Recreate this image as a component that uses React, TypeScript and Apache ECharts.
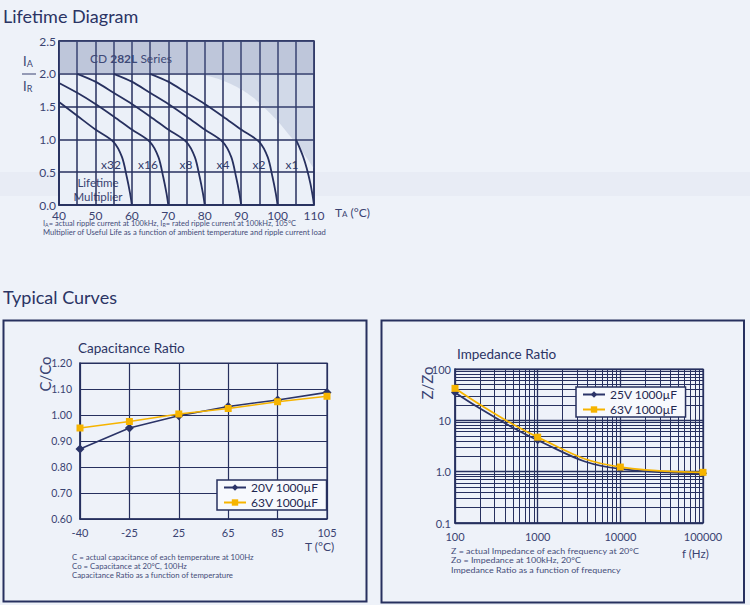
import React, { useEffect, useRef } from 'react';
import * as echarts from 'echarts';

// ---------- Lifetime diagram data ----------
const lifeXTicks = [40, 50, 60, 70, 80, 90, 100, 110];
const x1T = [105, 106, 107, 108, 109, 109.6, 110];
const x1V = [1.0, 0.88, 0.74, 0.56, 0.33, 0.15, 0];
const x2T = [65, 70, 75, 80, 85, 90, 95, 97.3, 98.6, 99.5, 100];
const x2V = [2.0, 1.88, 1.71, 1.54, 1.35, 1.15, 0.96, 0.73, 0.43, 0.18, 0];
const x4T = [55, 60, 65, 70, 75, 80, 85, 87.3, 88.6, 89.5, 90];
const x4V = [2.0, 1.88, 1.71, 1.54, 1.35, 1.15, 0.96, 0.73, 0.43, 0.18, 0];
const x8T = [45, 50, 55, 60, 65, 70, 75, 77.3, 78.6, 79.5, 80];
const x8V = [2.0, 1.88, 1.71, 1.54, 1.35, 1.15, 0.96, 0.73, 0.43, 0.18, 0];
const x16T = [40, 45, 50, 55, 60, 65, 67.3, 68.6, 69.5, 70];
const x16V = [1.86, 1.71, 1.54, 1.35, 1.15, 0.96, 0.73, 0.43, 0.18, 0];
const x32T = [40, 45, 50, 55, 57.3, 58.6, 59.5, 60];
const x32V = [1.57, 1.36, 1.15, 0.96, 0.73, 0.43, 0.18, 0];
const shadeT = [76, 82, 88, 93, 96, 100, 103, 105, 108, 110];
const shadeV = [2.0, 1.95, 1.82, 1.65, 1.5, 1.28, 1.08, 0.95, 0.72, 0.55];
const bandY = [2.0, 2.5];
const multiplierLabels = ['x32', 'x16', 'x8', 'x4', 'x2', 'x1'];

// ---------- Capacitance ratio data ----------
const capCats = ['-40', '-25', '25', '65', '85', '105'];
const cap20V = [0.869, 0.95, 0.997, 1.033, 1.058, 1.087];
const cap63V = [0.95, 0.975, 1.004, 1.025, 1.051, 1.072];
const capNames = ['20V 1000µF', '63V 1000µF'];

// ---------- Impedance ratio data ----------
const impFreq = [100, 1000, 10000, 100000];
const imp25V = [35, 4.1, 1.13, 0.93];
const imp63V = [42, 4.7, 1.23, 0.97];
const impNames = ['25V 1000µF', '63V 1000µF'];
const impMinorX = [200, 300, 400, 500, 600, 700, 800, 900, 2000, 3000, 4000, 5000, 6000, 7000, 8000, 9000, 20000, 30000, 40000, 50000, 60000, 70000, 80000, 90000];
const impMinorY = [0.2, 0.3, 0.4, 0.5, 0.6, 0.7, 0.8, 0.9, 2, 3, 4, 5, 6, 7, 8, 9, 20, 30, 40, 50, 60, 70, 80, 90];

const FONT = 'Lato, "Open Sans", sans-serif';
const NAVY = '#27305f';
const TXT = '#3a4372';
const ORANGE = '#f6b400';
const BG = '#eef2f9';

function pairs(xs: number[], ys: number[]) {
  return xs.map((x, i) => [x, ys[i]]);
}

export default function App() {
  const ref = useRef<HTMLDivElement>(null);
  useEffect(() => {
    if (!ref.current) return;
    const chart = echarts.init(ref.current, undefined, { renderer: 'svg' });

    const lifeCurve = (name: string, xs: number[], ys: number[]) => ({
      name,
      type: 'line',
      xAxisIndex: 0,
      yAxisIndex: 0,
      data: pairs(xs, ys),
      smooth: 0.3,
      symbol: 'none',
      lineStyle: { color: NAVY, width: 1.8 },
      z: 3,
    });

    const axisCommon = {
      axisTick: { show: false },
      axisLine: { show: true, lineStyle: { color: NAVY, width: 1.5 } },
    };

    const footStyle = { fontFamily: FONT, fontSize: 8.5, lineHeight: 9, fill: '#444c78' };
    const impFootStyle = { fontFamily: FONT, fontSize: 8.5, lineHeight: 9, fill: '#444c78' };
    const txt = (x: number, y: number, text: string, extra: any = {}, sx = 1) => ({
      type: 'text',
      x,
      y,
      scaleX: sx,
      style: { text, fontFamily: FONT, fill: TXT, fontSize: 12, verticalAlign: 'middle', ...extra },
      silent: true,
    });

    const multPos = [111, 148, 186, 223, 259, 292];

    const legendCommon = {
      orient: 'vertical',
      itemWidth: 22,
      itemHeight: 8,
      itemGap: 2,
      padding: [1, 8, 1, 6],
      backgroundColor: '#f7f9fd',
      borderColor: NAVY,
      borderWidth: 1.5,
      borderRadius: 0,
      textStyle: { fontSize: 12, lineHeight: 13, color: '#1f2750', fontFamily: FONT },
      selectedMode: false,
    };

    const option: any = {
      animation: false,
      backgroundColor: BG,
      textStyle: { fontFamily: FONT },
      grid: [
        { left: 59, top: 41, width: 255, height: 164, show: true, backgroundColor: '#ebf0f8', borderColor: NAVY, borderWidth: 1.5 },
        { left: 80, top: 363, width: 247, height: 156, show: true, backgroundColor: 'transparent', borderColor: NAVY, borderWidth: 1.2 },
        { left: 455, top: 369, width: 248, height: 154, show: true, backgroundColor: 'transparent', borderColor: NAVY, borderWidth: 1.2 },
      ],
      xAxis: [
        {
          gridIndex: 0, type: 'value', min: 40, max: 110, interval: 10,
          ...axisCommon,
          axisLabel: { color: TXT, fontSize: 12, margin: 4, fontFamily: FONT },
          splitLine: { show: true, lineStyle: { color: NAVY, width: 1.5 } },
          minorTick: { show: false, splitNumber: 2 },
          minorSplitLine: { show: true, lineStyle: { color: NAVY, width: 1.5 } },
        },
        {
          gridIndex: 1, type: 'category', data: capCats, boundaryGap: false,
          ...axisCommon,
          axisLabel: { color: TXT, fontSize: 11, margin: 8, interval: 0, fontFamily: FONT },
          splitLine: { show: true, lineStyle: { color: NAVY, width: 1.2 } },
        },
        {
          gridIndex: 2, type: 'log', logBase: 10, min: 100, max: 100000,
          ...axisCommon,
          axisLabel: { color: TXT, fontSize: 11, margin: 8, fontFamily: FONT, formatter: (v: number) => String(Math.round(v)) },
          splitLine: { show: true, lineStyle: { color: NAVY, width: 1.3 } },
        },
      ],
      yAxis: [
        {
          gridIndex: 0, type: 'value', min: 0, max: 2.5, interval: 0.5,
          ...axisCommon,
          axisLabel: { color: TXT, fontSize: 12, margin: 3, fontFamily: FONT, formatter: (v: number) => v.toFixed(1) },
          splitLine: { show: true, lineStyle: { color: NAVY, width: 1.5 } },
        },
        {
          gridIndex: 1, type: 'value', min: 0.6, max: 1.2, interval: 0.1,
          ...axisCommon,
          axisLabel: { color: TXT, fontSize: 10.5, margin: 8, fontFamily: FONT, formatter: (v: number) => v.toFixed(2) },
          splitLine: { show: true, lineStyle: { color: NAVY, width: 1.2 } },
        },
        {
          gridIndex: 2, type: 'log', logBase: 10, min: 0.1, max: 100,
          ...axisCommon,
          axisLabel: { color: TXT, fontSize: 11, margin: 4, fontFamily: FONT, formatter: (v: number) => (v >= 10 ? String(Math.round(v)) : v.toFixed(1)) },
          splitLine: { show: true, lineStyle: { color: NAVY, width: 1.3 } },
        },
      ],
      legend: [
        { ...legendCommon, data: capNames, left: 217, top: 480 },
        { ...legendCommon, data: impNames, left: 576, top: 387 },
      ],
      series: [
        {
          name: 'shade',
          type: 'line',
          xAxisIndex: 0,
          yAxisIndex: 0,
          data: pairs(shadeT, shadeV),
          smooth: 0.4,
          symbol: 'none',
          lineStyle: { width: 0, opacity: 0 },
          areaStyle: { color: 'rgba(100,115,165,0.27)', origin: 2.0 },
          markArea: {
            silent: true,
            itemStyle: { color: 'rgba(95,108,155,0.32)' },
            data: [[{ xAxis: lifeXTicks[0], yAxis: bandY[0] }, { xAxis: lifeXTicks[lifeXTicks.length - 1], yAxis: bandY[1] }]],
          },
          z: 1,
          silent: true,
        },
        lifeCurve('x1', x1T, x1V),
        lifeCurve('x2', x2T, x2V),
        lifeCurve('x4', x4T, x4V),
        lifeCurve('x8', x8T, x8V),
        lifeCurve('x16', x16T, x16V),
        lifeCurve('x32', x32T, x32V),
        {
          name: capNames[0],
          type: 'line',
          xAxisIndex: 1,
          yAxisIndex: 1,
          data: cap20V,
          symbol: 'diamond',
          symbolSize: 9,
          itemStyle: { color: '#2b3468' },
          lineStyle: { color: '#2b3468', width: 1.6 },
          z: 3,
        },
        {
          name: capNames[1],
          type: 'line',
          xAxisIndex: 1,
          yAxisIndex: 1,
          data: cap63V,
          symbol: 'rect',
          symbolSize: 7,
          itemStyle: { color: ORANGE },
          lineStyle: { color: ORANGE, width: 1.6 },
          z: 4,
        },
        {
          name: 'minor',
          type: 'line',
          xAxisIndex: 2,
          yAxisIndex: 2,
          data: [[impFreq[0], 1]],
          symbol: 'none',
          lineStyle: { width: 0, opacity: 0 },
          silent: true,
          z: 1,
          markLine: {
            silent: true,
            symbol: ['none', 'none'],
            label: { show: false },
            lineStyle: { color: NAVY, width: 1, type: 'solid' },
            z: 1,
            data: [...impMinorX.map((v) => ({ xAxis: v })), ...impMinorY.map((v) => ({ yAxis: v }))],
          },
        },
        {
          name: impNames[0],
          type: 'line',
          xAxisIndex: 2,
          yAxisIndex: 2,
          data: pairs(impFreq, imp25V),
          smooth: 0.45,
          symbol: 'diamond',
          symbolSize: 8,
          itemStyle: { color: '#2b3468' },
          lineStyle: { color: '#2b3468', width: 1.8 },
          z: 3,
        },
        {
          name: impNames[1],
          type: 'line',
          xAxisIndex: 2,
          yAxisIndex: 2,
          data: pairs(impFreq, imp63V),
          smooth: 0.45,
          symbol: 'rect',
          symbolSize: 7,
          itemStyle: { color: ORANGE },
          lineStyle: { color: ORANGE, width: 1.8 },
          z: 4,
        },
      ],
      graphic: [
        // faint show-through of the reverse page
        { type: 'rect', shape: { x: 0, y: 172, width: 750, height: 24 }, style: { fill: '#e8ecf5' }, z: -10, silent: true },
        // headings
        txt(3, 16, 'Lifetime Diagram', { fontSize: 18, fill: '#2b3464' }),
        txt(3, 297, 'Typical Curves', { fontSize: 18, fill: '#2b3464' }),
        // I_A / I_R
        {
          type: 'text', x: 23, y: 61, silent: true,
          style: { text: '{m|I}{s|A}', fill: TXT, verticalAlign: 'middle', rich: { m: { fontSize: 13, fontFamily: FONT, fill: TXT, verticalAlign: 'middle' }, s: { fontSize: 9, fontFamily: FONT, fill: TXT, verticalAlign: 'bottom' } } },
        },
        { type: 'line', shape: { x1: 22, y1: 74, x2: 36, y2: 74 }, style: { stroke: TXT, lineWidth: 1 }, silent: true },
        {
          type: 'text', x: 23, y: 86, silent: true,
          style: { text: '{m|I}{s|R}', fill: TXT, verticalAlign: 'middle', rich: { m: { fontSize: 13, fontFamily: FONT, fill: TXT, verticalAlign: 'middle' }, s: { fontSize: 9, fontFamily: FONT, fill: TXT, verticalAlign: 'bottom' } } },
        },
        {
          type: 'text', x: 90, y: 58, silent: true,
          style: { text: '{n|CD }{b|282L}{n| Series}', verticalAlign: 'middle', rich: { n: { fontSize: 12, fontFamily: FONT, fill: '#2f3866' }, b: { fontSize: 12, fontFamily: FONT, fontWeight: 'bold', fill: '#2f3866' } } },
        },
        ...multiplierLabels.map((l, i) => txt(multPos[i], 164, l, { fontSize: 12, align: 'center', fill: '#333c6c' })),
        txt(98, 182.5, 'Lifetime', { fontSize: 11.5, lineHeight: 11, align: 'center', fill: '#3a4372' }),
        txt(98, 196, 'Multiplier', { fontSize: 11.5, lineHeight: 11, align: 'center', fill: '#3a4372' }),
        {
          type: 'text', x: 335, y: 212, silent: true,
          style: { text: '{m|T}{s|A}{m| (°C)}', verticalAlign: 'middle', rich: { m: { fontSize: 12, fontFamily: FONT, fill: TXT, verticalAlign: 'middle' }, s: { fontSize: 8, fontFamily: FONT, fill: TXT, verticalAlign: 'bottom' } } },
        },
        {
          type: 'text', x: 43, y: 223, scaleX: 0.88, silent: true,
          style: { text: '{m|I}{s|A}{m|= actual ripple current at 100kHz, I}{s|R}{m|= rated ripple current at 100kHz, 105°C}', verticalAlign: 'middle', rich: { m: { ...footStyle, verticalAlign: 'middle' }, s: { ...footStyle, fontSize: 6, verticalAlign: 'bottom' } } },
        },
        txt(43, 232, 'Multiplier of Useful Life as a function of ambient temperature and ripple current load', footStyle, 0.9),
        // capacitance box
        { type: 'rect', shape: { x: 3.5, y: 320.5, width: 363, height: 281 }, style: { fill: 'none', stroke: NAVY, lineWidth: 2 }, silent: true },
        txt(78, 348, 'Capacitance Ratio', { fontSize: 13.5, fill: '#2b3464' }),
        { type: 'text', x: 45, y: 374, rotation: Math.PI / 2, silent: true, style: { text: 'C/Co', fontFamily: FONT, fontSize: 15, fill: TXT, align: 'center', verticalAlign: 'middle' } },
        txt(305, 546, 'T (°C)', { fontSize: 12 }),
        txt(72, 557, 'C = actual capacitance of each temperature at 100Hz', footStyle, 0.92),
        txt(72, 566, 'Co = Capacitance at 20°C, 100Hz', footStyle, 0.92),
        txt(72, 575, 'Capacitance Ratio as a function of temperature', footStyle, 0.92),
        // impedance box
        { type: 'rect', shape: { x: 381.5, y: 320.5, width: 362.5, height: 282 }, style: { fill: 'none', stroke: NAVY, lineWidth: 2 }, silent: true },
        txt(457, 354, 'Impedance Ratio', { fontSize: 13.5, fill: '#2b3464' }),
        { type: 'text', x: 427, y: 383, rotation: Math.PI / 2, silent: true, style: { text: 'Z/Zo', fontFamily: FONT, fontSize: 15, fill: TXT, align: 'center', verticalAlign: 'middle' } },
        txt(682, 553, 'f (Hz)', { fontSize: 11.5 }),
        txt(451, 550.5, 'Z = actual Impedance of each frequency at 20°C', impFootStyle, 1.05),
        txt(451, 560, 'Zo = Impedance at 100kHz, 20°C', impFootStyle, 1.05),
        txt(451, 569.5, 'Impedance Ratio as a function of frequency', impFootStyle, 1.05),
      ],
    };

    chart.setOption(option);
    return () => chart.dispose();
  }, []);

  return (
    <div
      ref={ref}
      style={{ position: 'fixed', left: 0, top: 0, width: 750, height: 605, background: BG }}
    />
  );
}
